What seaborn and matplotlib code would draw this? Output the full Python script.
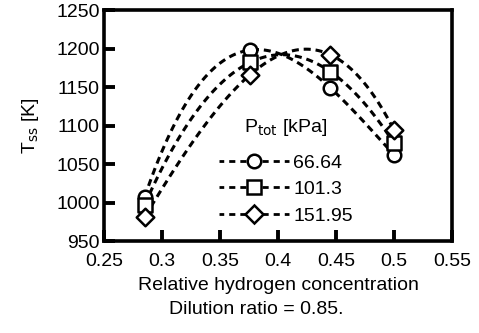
import numpy as np
import pandas as pd
import matplotlib
matplotlib.use("Agg")
import matplotlib.pyplot as plt
import seaborn as sns

x_vals = [0.285, 0.376, 0.445, 0.5]
t_6664 = [1007, 1198, 1149, 1062]
t_1013 = [997, 1182, 1170, 1077]
t_15195 = [981, 1166, 1192, 1094]
labels = ["66.64", "101.3", "151.95"]
markers = ["o", "s", "D"]
marker_sizes = [95, 95, 80]

sns.set_theme(style="ticks")
plt.rcParams['font.family'] = ['Liberation Sans', 'DejaVu Sans']
for k in ["text.color", "axes.labelcolor", "xtick.color", "ytick.color", "axes.edgecolor"]:
    plt.rcParams[k] = "black"

fig = plt.figure(figsize=(4.79, 3.33), dpi=100)
ax = fig.add_axes([104/479, 1-241/333, (452-104)/479, (241-10)/333])

dash = (0, (2.3, 1.6))
series = [t_6664, t_1013, t_15195]
for ys, lab, mk, ms in zip(series, labels, markers, marker_sizes):
    df = pd.DataFrame({"x": x_vals, "y": ys})
    sns.regplot(data=df, x="x", y="y", order=3, ci=None, ax=ax, scatter=False,
                line_kws=dict(color="black", lw=2.2, ls=dash))
    sns.scatterplot(data=df, x="x", y="y", ax=ax, marker=mk, s=ms,
                    facecolor="white", edgecolor="black", linewidth=1.8, zorder=5)
    ax.plot([], [], color="black", lw=2, ls=(0.5, (2.2, 1.8)), marker=mk,
            ms=np.sqrt(ms), mfc="white", mec="black", mew=1.8, label=lab)

ax.set_xlim(0.25, 0.55)
ax.set_ylim(950, 1250)
ax.set_xticks([0.25, 0.3, 0.35, 0.4, 0.45, 0.5, 0.55])
ax.set_xticklabels(["0.25", "0.3", "0.35", "0.4", "0.45", "0.5", "0.55"])
ax.set_yticks([950, 1000, 1050, 1100, 1150, 1200, 1250])
ax.tick_params(direction="in", length=8, width=2.8, labelsize=14, colors="black")
ax.tick_params(axis="x", pad=9)
ax.tick_params(axis="y", pad=3)
for sp in ax.spines.values():
    sp.set_linewidth(2.6)
    sp.set_visible(True)
    sp.set_color("black")
ax.set_xlabel("Relative hydrogen concentration", fontsize=14, labelpad=5, color="black")
ax.set_ylabel(r"T$_{\mathrm{ss}}$ [K]", fontsize=14, labelpad=11, color="black")

leg = ax.legend(title=r"P$_{\mathrm{tot}}$ [kPa]", loc="center left",
                bbox_to_anchor=(0.29, 0.305), frameon=False, fontsize=14,
                title_fontsize=14, handlelength=3.6, handletextpad=0.25,
                labelspacing=0.45, borderpad=0.2)
leg._legend_box.sep = 12
fig.text(256/479, 1 - 309/333, "Dilution ratio = 0.85.", ha="center",
         va="center", fontsize=14, color="black")
fig.savefig("out.png", dpi=100)
